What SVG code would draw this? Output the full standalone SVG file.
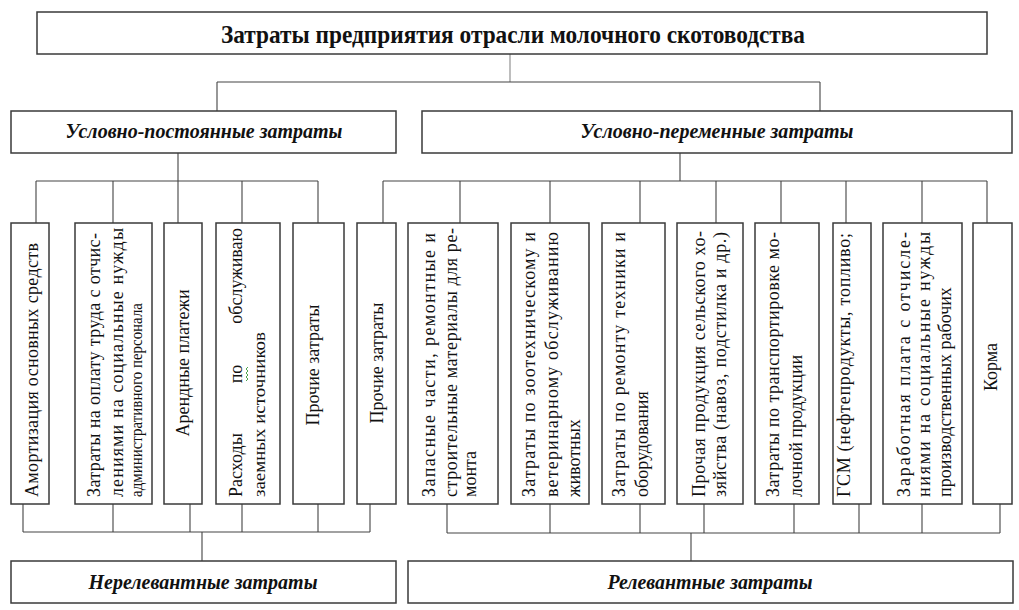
<svg xmlns="http://www.w3.org/2000/svg" width="1019" height="610" viewBox="0 0 1019 610">
<style>
.box{fill:#fff;stroke:#3a3a3a;stroke-width:1.5}
.ln{fill:none;stroke:#444;stroke-width:1.1}
.t{font-family:"Liberation Serif","Times New Roman",serif;fill:#111}
.h1{font-size:25px;font-weight:bold}
.h2{font-size:22px;font-weight:bold;font-style:italic}
.v{font-size:18px}
.s{font-size:16px}
</style>
<rect width="1019" height="610" fill="#fff"/>
<g id="connectors" class="ln">
<path d="M510 54V82" stroke="#888"/>
<path d="M217 82H820M217 82V111M820 82V111"/>
<path d="M178 153V181M36 181H318M36 181V223M113 181V223M178 181V223M242 181V223M318 181V223"/>
<path d="M680 153V181M383 181H987M383 181V223M460 181V223M550 181V223M640 181V223M716 181V223M781 181V223M846 181V223M922 181V223M987 181V223"/>
<path d="M23 504V532M113 504V532M190 504V532M242 504V532M318 504V532M370 504V532M23 532H370M202 532V561"/>
<path d="M447 504V533M550 504V533M640 504V533M704 504V533M794 504V533M859 504V533M922 504V533M1000 504V533M447 533H1000M691 533V561"/>
</g>
<g id="title"><rect class="box" x="37" y="12" width="950" height="42"/>
<text class="t h1" x="513" y="43" text-anchor="middle" textLength="584" lengthAdjust="spacingAndGlyphs">Затраты предприятия отрасли молочного скотоводства</text></g>
<g id="fixed"><rect class="box" x="11" y="111" width="385" height="42"/>
<text class="t h2" x="204" y="138" text-anchor="middle" textLength="277" lengthAdjust="spacingAndGlyphs">Условно-постоянные  затраты</text></g>
<g id="variable"><rect class="box" x="422" y="111" width="590" height="42"/>
<text class="t h2" x="717" y="138" text-anchor="middle" textLength="273" lengthAdjust="spacingAndGlyphs">Условно-переменные  затраты</text></g>

<g id="n1"><rect class="box" x="11" y="223" width="38" height="281"/>
<text class="t v" transform="translate(38,497) rotate(-90)" textLength="254" lengthAdjust="spacing">Амортизация основных средств</text></g>
<g id="n2"><rect class="box" x="75" y="223" width="77" height="281"/>
<text class="t v" transform="translate(100,497) rotate(-90)" textLength="264" lengthAdjust="spacing">Затраты на оплату труда с отчис-</text>
<text class="t v" transform="translate(123,497) rotate(-90)" textLength="269" lengthAdjust="spacing">лениями на социальные нужды</text>
<text class="t s" transform="translate(142,497) rotate(-90)" textLength="194" lengthAdjust="spacingAndGlyphs">административного персонала</text></g>
<g id="n3"><rect class="box" x="164" y="223" width="38" height="281"/>
<text class="t v" transform="translate(189,363) rotate(-90)" text-anchor="middle">Арендные платежи</text></g>
<g id="n4"><rect class="box" x="216" y="223" width="64" height="281"/>
<text class="t v" transform="translate(242,497) rotate(-90)">Расходы</text>
<text class="t v" transform="translate(242,374) rotate(-90)" text-anchor="middle">по</text>
<text class="t v" transform="translate(242,228) rotate(-90)" text-anchor="end">обслуживаю</text>
<text class="t s" transform="translate(265,497) rotate(-90)" textLength="165" lengthAdjust="spacingAndGlyphs">заемных источников</text>
<polyline points="246,381 248,379 246,377 248,375 246,373 248,371 246,369 248,367" fill="none" stroke="#3a9a3a" stroke-width="0.9"/></g>
<g id="n5"><rect class="box" x="293" y="223" width="51" height="281"/>
<text class="t v" transform="translate(319,365) rotate(-90)" text-anchor="middle">Прочие затраты</text></g>
<g id="n6"><rect class="box" x="357" y="223" width="39" height="281"/>
<text class="t v" transform="translate(383,363) rotate(-90)" text-anchor="middle">Прочие затраты</text></g>
<g id="n7"><rect class="box" x="408" y="223" width="90" height="281"/>
<text class="t v" transform="translate(435,497) rotate(-90)" textLength="264" lengthAdjust="spacing">Запасные части, ремонтные и</text>
<text class="t v" transform="translate(457,497) rotate(-90)" textLength="269" lengthAdjust="spacing">строительные материалы для ре-</text>
<text class="t v" transform="translate(476,497) rotate(-90)">монта</text></g>
<g id="n8"><rect class="box" x="511" y="223" width="78" height="281"/>
<text class="t v" transform="translate(535,497) rotate(-90)" textLength="265" lengthAdjust="spacing">Затраты по зоотехническому и</text>
<text class="t v" transform="translate(558,497) rotate(-90)" textLength="265" lengthAdjust="spacing">ветеринарному обслуживанию</text>
<text class="t v" transform="translate(580,497) rotate(-90)">животных</text></g>
<g id="n9"><rect class="box" x="602" y="223" width="63" height="281"/>
<text class="t v" transform="translate(625,497) rotate(-90)" textLength="265" lengthAdjust="spacing">Затраты по ремонту техники и</text>
<text class="t v" transform="translate(648,497) rotate(-90)">оборудования</text></g>
<g id="n10"><rect class="box" x="677" y="223" width="66" height="281"/>
<text class="t v" transform="translate(705,497) rotate(-90)" textLength="266" lengthAdjust="spacing">Прочая продукция сельского хо-</text>
<text class="t v" transform="translate(726,497) rotate(-90)" textLength="265" lengthAdjust="spacing">зяйства (навоз, подстилка  и др.)</text></g>
<g id="n11"><rect class="box" x="755" y="223" width="64" height="281"/>
<text class="t v" transform="translate(779,497) rotate(-90)" textLength="265" lengthAdjust="spacing">Затраты по транспортировке мо-</text>
<text class="t v" transform="translate(802,497) rotate(-90)">лочной продукции</text></g>
<g id="n12"><rect class="box" x="833" y="223" width="38" height="281"/>
<text class="t v" transform="translate(850,497) rotate(-90)" textLength="264" lengthAdjust="spacing">ГСМ (нефтепродукты, топливо;</text></g>
<g id="n13"><rect class="box" x="883" y="223" width="79" height="281"/>
<text class="t v" transform="translate(910,497) rotate(-90)" textLength="265" lengthAdjust="spacing">Заработная плата с отчисле-</text>
<text class="t v" transform="translate(930,497) rotate(-90)" textLength="265" lengthAdjust="spacing">ниями на социальные нужды</text>
<text class="t v" transform="translate(951,497) rotate(-90)">производственных рабочих</text></g>
<g id="n14"><rect class="box" x="973" y="223" width="39" height="281"/>
<text class="t v" transform="translate(997,367) rotate(-90)" text-anchor="middle">Корма</text></g>

<g id="irrelevant"><rect class="box" x="11" y="561" width="385" height="42"/>
<text class="t h2" x="203" y="589" text-anchor="middle" textLength="229" lengthAdjust="spacingAndGlyphs">Нерелевантные затраты</text></g>
<g id="relevant"><rect class="box" x="408" y="561" width="605" height="42"/>
<text class="t h2" x="710" y="589" text-anchor="middle" textLength="205" lengthAdjust="spacingAndGlyphs">Релевантные затраты</text></g>
</svg>
